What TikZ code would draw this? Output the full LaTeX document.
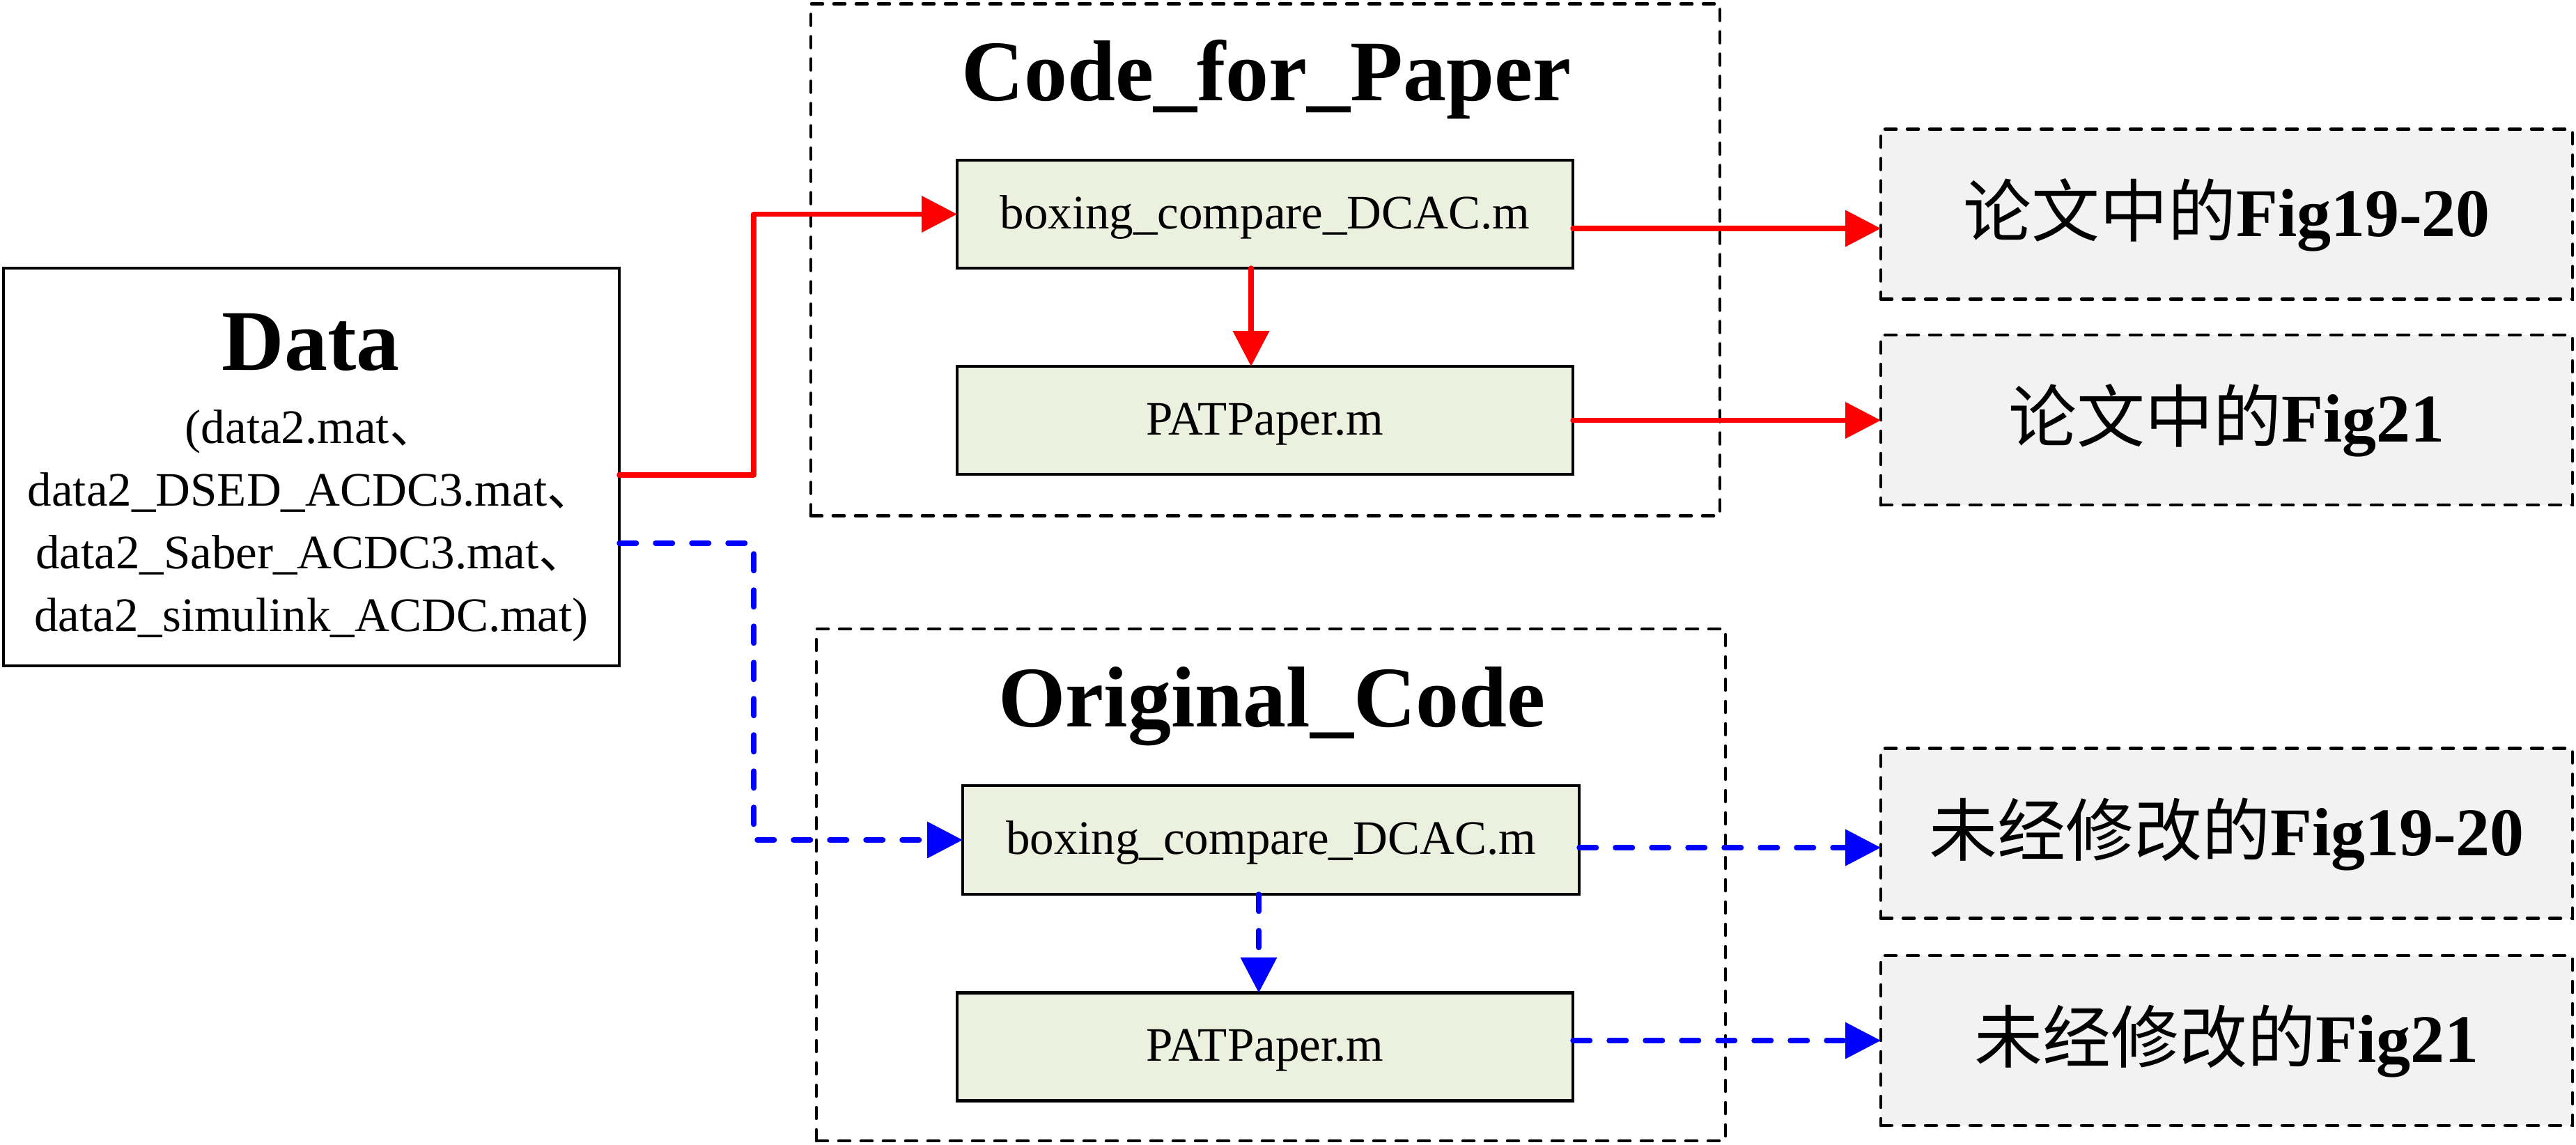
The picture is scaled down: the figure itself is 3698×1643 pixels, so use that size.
\documentclass[tikz,border=0pt]{standalone}
\usepackage{fontspec}
\setmainfont{Liberation Serif}
\newfontfamily\cjk{Noto Sans CJK SC}
\usetikzlibrary{arrows.meta}
\definecolor{boxgreen}{HTML}{EBF1DE}
\definecolor{boxgray}{HTML}{F2F2F2}
\definecolor{myred}{HTML}{FF0000}
\definecolor{myblue}{HTML}{0000FF}
\begin{document}
\begin{tikzpicture}[x=0.2pt,y=-0.2pt,
  every node/.style={outer sep=0pt, inner sep=0pt},
  frame/.style={draw, line width=0.9pt, dash pattern=on 3.2pt off 3.2pt, line cap=round, minimum width=261pt, minimum height=147pt},
  filebox/.style={draw, line width=0.9pt, fill=boxgreen, minimum width=176.8pt, minimum height=31pt, font=\fontsize{13.8}{16}\selectfont, text height=9.66pt, text depth=1.38pt},
  figbox/.style={draw, line width=0.9pt, dash pattern=on 3.2pt off 3.2pt, line cap=round, fill=boxgray, minimum width=198.6pt, minimum height=48.8pt, font=\fontsize{19.6}{22}\selectfont, text height=14.7pt, text depth=1.96pt},
  titletext/.style={anchor=base, font=\fontsize{24.8}{28}\selectfont\bfseries},
  dataline/.style={anchor=base, font=\fontsize{13.8}{16}\selectfont},
  redarrow/.style={draw=myred, line width=1.5pt, line cap=round, line join=round, -{Triangle[length=10.2pt,width=10.2pt]}},
  bluearrow/.style={draw=myblue, line width=1.5pt, dash pattern=on 4.9pt off 5.5pt, line cap=round, line join=round, -{Triangle[length=10.2pt,width=10.2pt]}},
]
\useasboundingbox (0,0) rectangle (3698,1643);

% frames
\node[frame] (frame1) at (1816.5,373) {};
\node[frame] (frame2) at (1824.5,1270.5) {};

% data box
\node[draw, line width=0.9pt, minimum width=176.8pt, minimum height=114.2pt] (data) at (447,670.5) {};
\node[titletext] (datatitle) at (446,531) {Data};
\node[dataline] (dl1) at (447,636) {(data2.mat{\cjk 、}};
\node[dataline] (dl2) at (447,726) {data2\_DSED\_ACDC3.mat{\cjk 、}};
\node[dataline] (dl3) at (447,816) {data2\_Saber\_ACDC3.mat{\cjk 、}};
\node[dataline] (dl4) at (447,906) {data2\_simulink\_ACDC.mat)};

% titles
\node[titletext] (t1) at (1818,144) {Code\_for\_Paper};
\node[titletext] (t2) at (1826,1043) {Original\_Code};

% file boxes
\node[filebox] (b1) at (1816,307.5) {boxing\_compare\_DCAC.m};
\node[filebox] (p1) at (1816,603.5) {PATPaper.m};
\node[filebox, minimum width=177pt, minimum height=31.2pt] (b2) at (1824.5,1206) {boxing\_compare\_DCAC.m};
\node[filebox] (p2) at (1816,1503) {PATPaper.m};

% result boxes
\node[figbox] (r1) at (3196.5,307.5) {{\cjk 论文中的}\textbf{Fig19-20}};
\node[figbox] (r2) at (3196.5,603) {{\cjk 论文中的}\textbf{Fig21}};
\node[figbox] (r3) at (3196.5,1196.5) {{\cjk 未经修改的}\textbf{Fig19-20}};
\node[figbox] (r4) at (3196.5,1494) {{\cjk 未经修改的}\textbf{Fig21}};

% connectors
\coordinate (dr) at ([yshift=-2.3pt]data.east);
\coordinate (db) at ([yshift=-21.9pt]data.east);
\path (b1.west) ++(-292,0) coordinate (rk);
\path (b2.west) ++(-300,0) coordinate (bk);
\draw[redarrow] (dr) -| (rk) -- (b1.west);
\draw[bluearrow] (db) -| (bk) -- (b2.west);

\coordinate (v1) at ([xshift=-4pt]b1.south);
\draw[redarrow] (v1) -- (v1 |- p1.north);
\coordinate (v2) at ([xshift=-3.5pt]b2.south);
\draw[bluearrow] (v2) -- (v2 |- p2.north);

\coordinate (o1) at ([yshift=-4.1pt]b1.east);
\draw[redarrow] (o1) -- (o1 -| r1.west);
\draw[redarrow] (p1.east) -- (p1.east -| r2.west);
\coordinate (o3) at ([yshift=-2.2pt]b2.east);
\draw[bluearrow] (o3) -- (o3 -| r3.west);
\coordinate (o4) at (r4.west -| p2.east);
\draw[bluearrow] (o4) -- (r4.west);
\end{tikzpicture}
\end{document}
